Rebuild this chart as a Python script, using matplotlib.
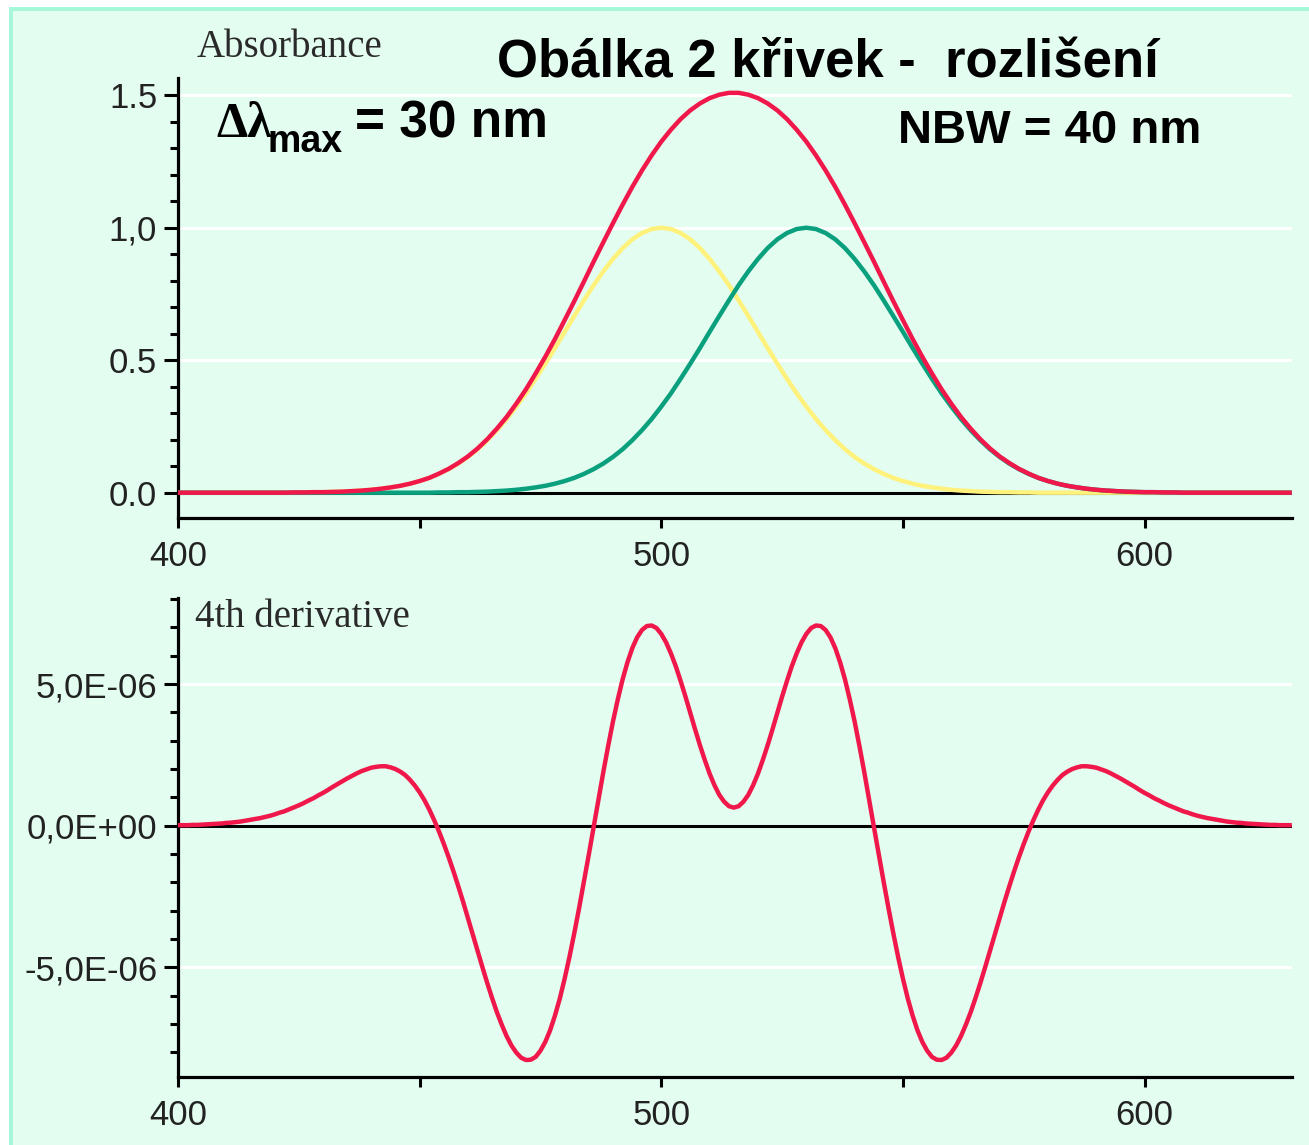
import numpy as np
import matplotlib
matplotlib.use('Agg')
import matplotlib.pyplot as plt
from matplotlib.patches import Rectangle
from matplotlib.ticker import MultipleLocator

# Vlnové délky (nm): absorbance krok 2 nm, derivace krok 1 nm
wavelength = np.arange(400, 631, 2)
wavelength_d = np.arange(400, 631, 1)

# Žlutá křivka - maximum 500 nm
yellow = [0, 0, 0, 0, 0, 0, 0, 0, 0, 0, 0, 0,
          .001, .001, .002, .002, .003, .004, .006, .008, .011, .015, .020, .026, .034, .044,
          .056, .071, .089, .110, .135, .164, .198, .236, .278, .325, .375, .430, .487, .546,
          .607, .667, .726, .783, .835, .882, .923, .956, .980, .995, 1.000,
          .995, .980, .956, .923, .882, .835, .783, .726, .667, .607, .546, .487, .430, .375,
          .325, .278, .236, .198, .164, .135, .110, .089, .071, .056, .044, .034, .026, .020,
          .015, .011, .008, .006, .004, .003, .002, .002, .001, .001,
          0, 0, 0, 0, 0, 0, 0, 0, 0, 0, 0, 0, 0, 0, 0, 0, 0, 0, 0, 0, 0, 0, 0, 0, 0, 0, 0]

# Zelená křivka - maximum 530 nm
green = [0, 0, 0, 0, 0, 0, 0, 0, 0, 0, 0, 0, 0, 0, 0, 0, 0, 0, 0, 0, 0, 0, 0, 0, 0, 0, 0,
         .001, .001, .002, .002, .003, .004, .006, .008, .011, .015, .020, .026, .034, .044,
         .056, .071, .089, .110, .135, .164, .198, .236, .278, .325, .375, .430, .487, .546,
         .607, .667, .726, .783, .835, .882, .923, .956, .980, .995, 1.000,
         .995, .980, .956, .923, .882, .835, .783, .726, .667, .607, .546, .487, .430, .375,
         .325, .278, .236, .198, .164, .135, .110, .089, .071, .056, .044, .034, .026, .020,
         .015, .011, .008, .006, .004, .003, .002, .002, .001, .001,
         0, 0, 0, 0, 0, 0, 0, 0, 0, 0, 0, 0]

# Červená - obálka
envelope = [0, 0, 0, 0, 0, 0, 0, 0, 0, 0, 0, 0,
            .001, .001, .002, .002, .003, .004, .006, .008, .011, .015, .020, .026, .034, .044,
            .056, .072, .090, .112, .137, .167, .202, .242, .286, .336, .390, .450, .513, .580,
            .651, .723, .797, .872, .945, 1.017, 1.087, 1.154, 1.216, 1.273, 1.325, 1.370, 1.410,
            1.443, 1.469, 1.489, 1.502, 1.509,
            1.509, 1.502, 1.489, 1.469, 1.443, 1.410, 1.370, 1.325, 1.273, 1.216, 1.154, 1.087,
            1.017, .945, .872, .797, .723, .651, .580, .513, .450, .390, .336, .286, .242, .202,
            .167, .137, .112, .090, .072, .056, .044, .034, .026, .020, .015, .011, .008, .006,
            .004, .003, .002, .002, .001, .001,
            0, 0, 0, 0, 0, 0, 0, 0, 0, 0, 0, 0]

# 4. derivace (x 1e-6), 400-630 nm
deriv4 = [0.02, 0.02, 0.02, 0.03, 0.03, 0.04, 0.05, 0.06, 0.07, 0.08,
          0.10, 0.11, 0.13, 0.15, 0.18, 0.21, 0.24, 0.27, 0.31, 0.35,
          0.40, 0.46, 0.51, 0.58, 0.65, 0.72, 0.80, 0.89, 0.97, 1.07,
          1.16, 1.26, 1.37, 1.47, 1.57, 1.67, 1.76, 1.85, 1.93, 1.99,
          2.05, 2.08, 2.10, 2.10, 2.06, 2.00, 1.91, 1.79, 1.62, 1.42,
          1.18, 0.90, 0.57, 0.20, -0.20, -0.64, -1.11, -1.61, -2.14, -2.69,
          -3.27, -3.84, -4.42, -5.00, -5.56, -6.09, -6.59, -7.03, -7.43, -7.76,
          -8.01, -8.19, -8.27, -8.26, -8.16, -7.94, -7.63, -7.22, -6.70, -6.10,
          -5.40, -4.63, -3.79, -2.90, -1.97, -1.02, -0.05, 0.93, 1.89, 2.81,
          3.68, 4.46, 5.17, 5.77, 6.27, 6.65, 6.91, 7.05, 7.07, 6.98,
          6.77, 6.47, 6.08, 5.63, 5.11, 4.56, 3.98, 3.40, 2.84, 2.32,
          1.84, 1.43, 1.09, 0.85, 0.69, 0.64,
          0.69, 0.85, 1.09, 1.43, 1.84, 2.32, 2.84, 3.40, 3.98, 4.56,
          5.11, 5.63, 6.08, 6.47, 6.77, 6.98, 7.07, 7.05, 6.91, 6.65,
          6.27, 5.77, 5.17, 4.46, 3.68, 2.81, 1.89, 0.93, -0.05, -1.02,
          -1.97, -2.90, -3.79, -4.63, -5.40, -6.10, -6.70, -7.22, -7.63, -7.94,
          -8.16, -8.26, -8.27, -8.19, -8.01, -7.76, -7.43, -7.03, -6.59, -6.09,
          -5.56, -5.00, -4.42, -3.84, -3.27, -2.69, -2.14, -1.61, -1.11, -0.64,
          -0.20, 0.20, 0.57, 0.90, 1.18, 1.42, 1.62, 1.79, 1.91, 2.00,
          2.06, 2.10, 2.10, 2.08, 2.05, 1.99, 1.93, 1.85, 1.76, 1.67,
          1.57, 1.47, 1.37, 1.26, 1.16, 1.07, 0.97, 0.89, 0.80, 0.72,
          0.65, 0.58, 0.51, 0.46, 0.40, 0.35, 0.31, 0.27, 0.24, 0.21,
          0.18, 0.15, 0.13, 0.11, 0.10, 0.08, 0.07, 0.06, 0.05, 0.04,
          0.03, 0.03, 0.02, 0.02, 0.02]

abs_ticks = [0.0, 0.5, 1.0, 1.5]
abs_labels = ['0.0', '0.5', '1,0', '1.5']
der_ticks = [-5e-6, 0.0, 5e-6]
der_labels = ['-5,0E-06', '0,0E+00', '5,0E-06']
x_ticks = [400, 450, 500, 550, 600]
x_labels = ['400', '', '500', '', '600']

W, H = 1309, 1145
bg = '#e3fdf1'
c_red = '#f0184a'
c_yel = '#fff27c'
c_grn = '#0aa07e'
tick_font = 'Liberation Sans'
tick_size = 25

def fx(px):
    return px / W

def fy(py):
    return 1 - py / H

fig = plt.figure(figsize=(W / 100, H / 100), dpi=100, facecolor='white')
fig.patches.append(Rectangle((fx(11), -0.02), 1.05, fy(8.5) + 0.02, transform=fig.transFigure,
                             facecolor=bg, edgecolor='#a6f6da', linewidth=2.8, zorder=-5))

ax1 = fig.add_axes([fx(178), fy(518), fx(1292) - fx(178), fy(78) - fy(518)])
ax2 = fig.add_axes([fx(178), fy(1077), fx(1292) - fx(178), fy(598) - fy(1077)])

for ax in (ax1, ax2):
    ax.set_zorder(2)
    ax.set_facecolor(bg)
    ax.set_axisbelow(True)
    ax.spines['top'].set_visible(False)
    ax.spines['right'].set_visible(False)
    ax.spines['left'].set_linewidth(2.3)
    ax.spines['bottom'].set_linewidth(2.3)
    ax.yaxis.grid(True, color='white', linewidth=2.2)
    ax.axhline(0, color='black', linewidth=2.2, zorder=2)
    ax.set_xlim(400, 630.5)
    ax.set_xticks(x_ticks)
    ax.set_xticklabels(x_labels, family=tick_font, fontsize=tick_size, color='#222222')
    ax.tick_params(axis='x', direction='out', length=7.5, width=2.2, pad=8)
    ax.tick_params(axis='y', which='major', direction='out', length=10, width=2.2, pad=5)
    ax.tick_params(axis='y', which='minor', direction='out', length=6, width=2.2)

ax1.plot(wavelength, yellow, color=c_yel, linewidth=3.2, zorder=3, solid_joinstyle='round')
ax1.plot(wavelength, green, color=c_grn, linewidth=3.2, zorder=4, solid_joinstyle='round')
ax1.plot(wavelength, envelope, color=c_red, linewidth=3.2, zorder=5, solid_joinstyle='round')
ax1.set_ylim(-0.0955, 1.565)
ax1.set_yticks(abs_ticks)
ax1.set_yticklabels(abs_labels, family=tick_font, fontsize=tick_size, color='#222222')
ax1.yaxis.set_minor_locator(MultipleLocator(0.1))

ax2.plot(wavelength_d, np.array(deriv4) * 1e-6, color=c_red, linewidth=3.2, zorder=5,
         solid_joinstyle='round')
ax2.set_ylim(-8.87e-6, 8.04e-6)
ax2.set_yticks(der_ticks)
ax2.set_yticklabels(der_labels, family=tick_font, fontsize=tick_size, color='#222222')
ax2.yaxis.set_minor_locator(MultipleLocator(1e-6))

# Popisky
fig.text(fx(197), fy(57), 'Absorbance', family='Liberation Serif', fontsize=28,
         color='#2a2a2a', va='baseline')
fig.text(fx(195), fy(627), '4th derivative', family='Liberation Serif', fontsize=28,
         color='#2a2a2a', va='baseline')
fig.text(fx(497), fy(77), 'Obálka 2 křivek -  rozlišení', family='Liberation Sans',
         fontsize=38, fontweight='bold', va='baseline')
fig.text(fx(216), fy(137), 'Δλ', family='Liberation Serif', fontsize=36,
         fontweight='bold', va='baseline')
fig.text(fx(268), fy(152), 'max', family='Liberation Sans', fontsize=27,
         fontweight='bold', va='baseline')
fig.text(fx(355), fy(137), '= 30 nm', family='Liberation Sans', fontsize=37,
         fontweight='bold', va='baseline')
fig.text(fx(898), fy(143), 'NBW = 40 nm', family='Liberation Sans', fontsize=34,
         fontweight='bold', va='baseline')

fig.savefig('out.png', dpi=100, facecolor=fig.get_facecolor())
